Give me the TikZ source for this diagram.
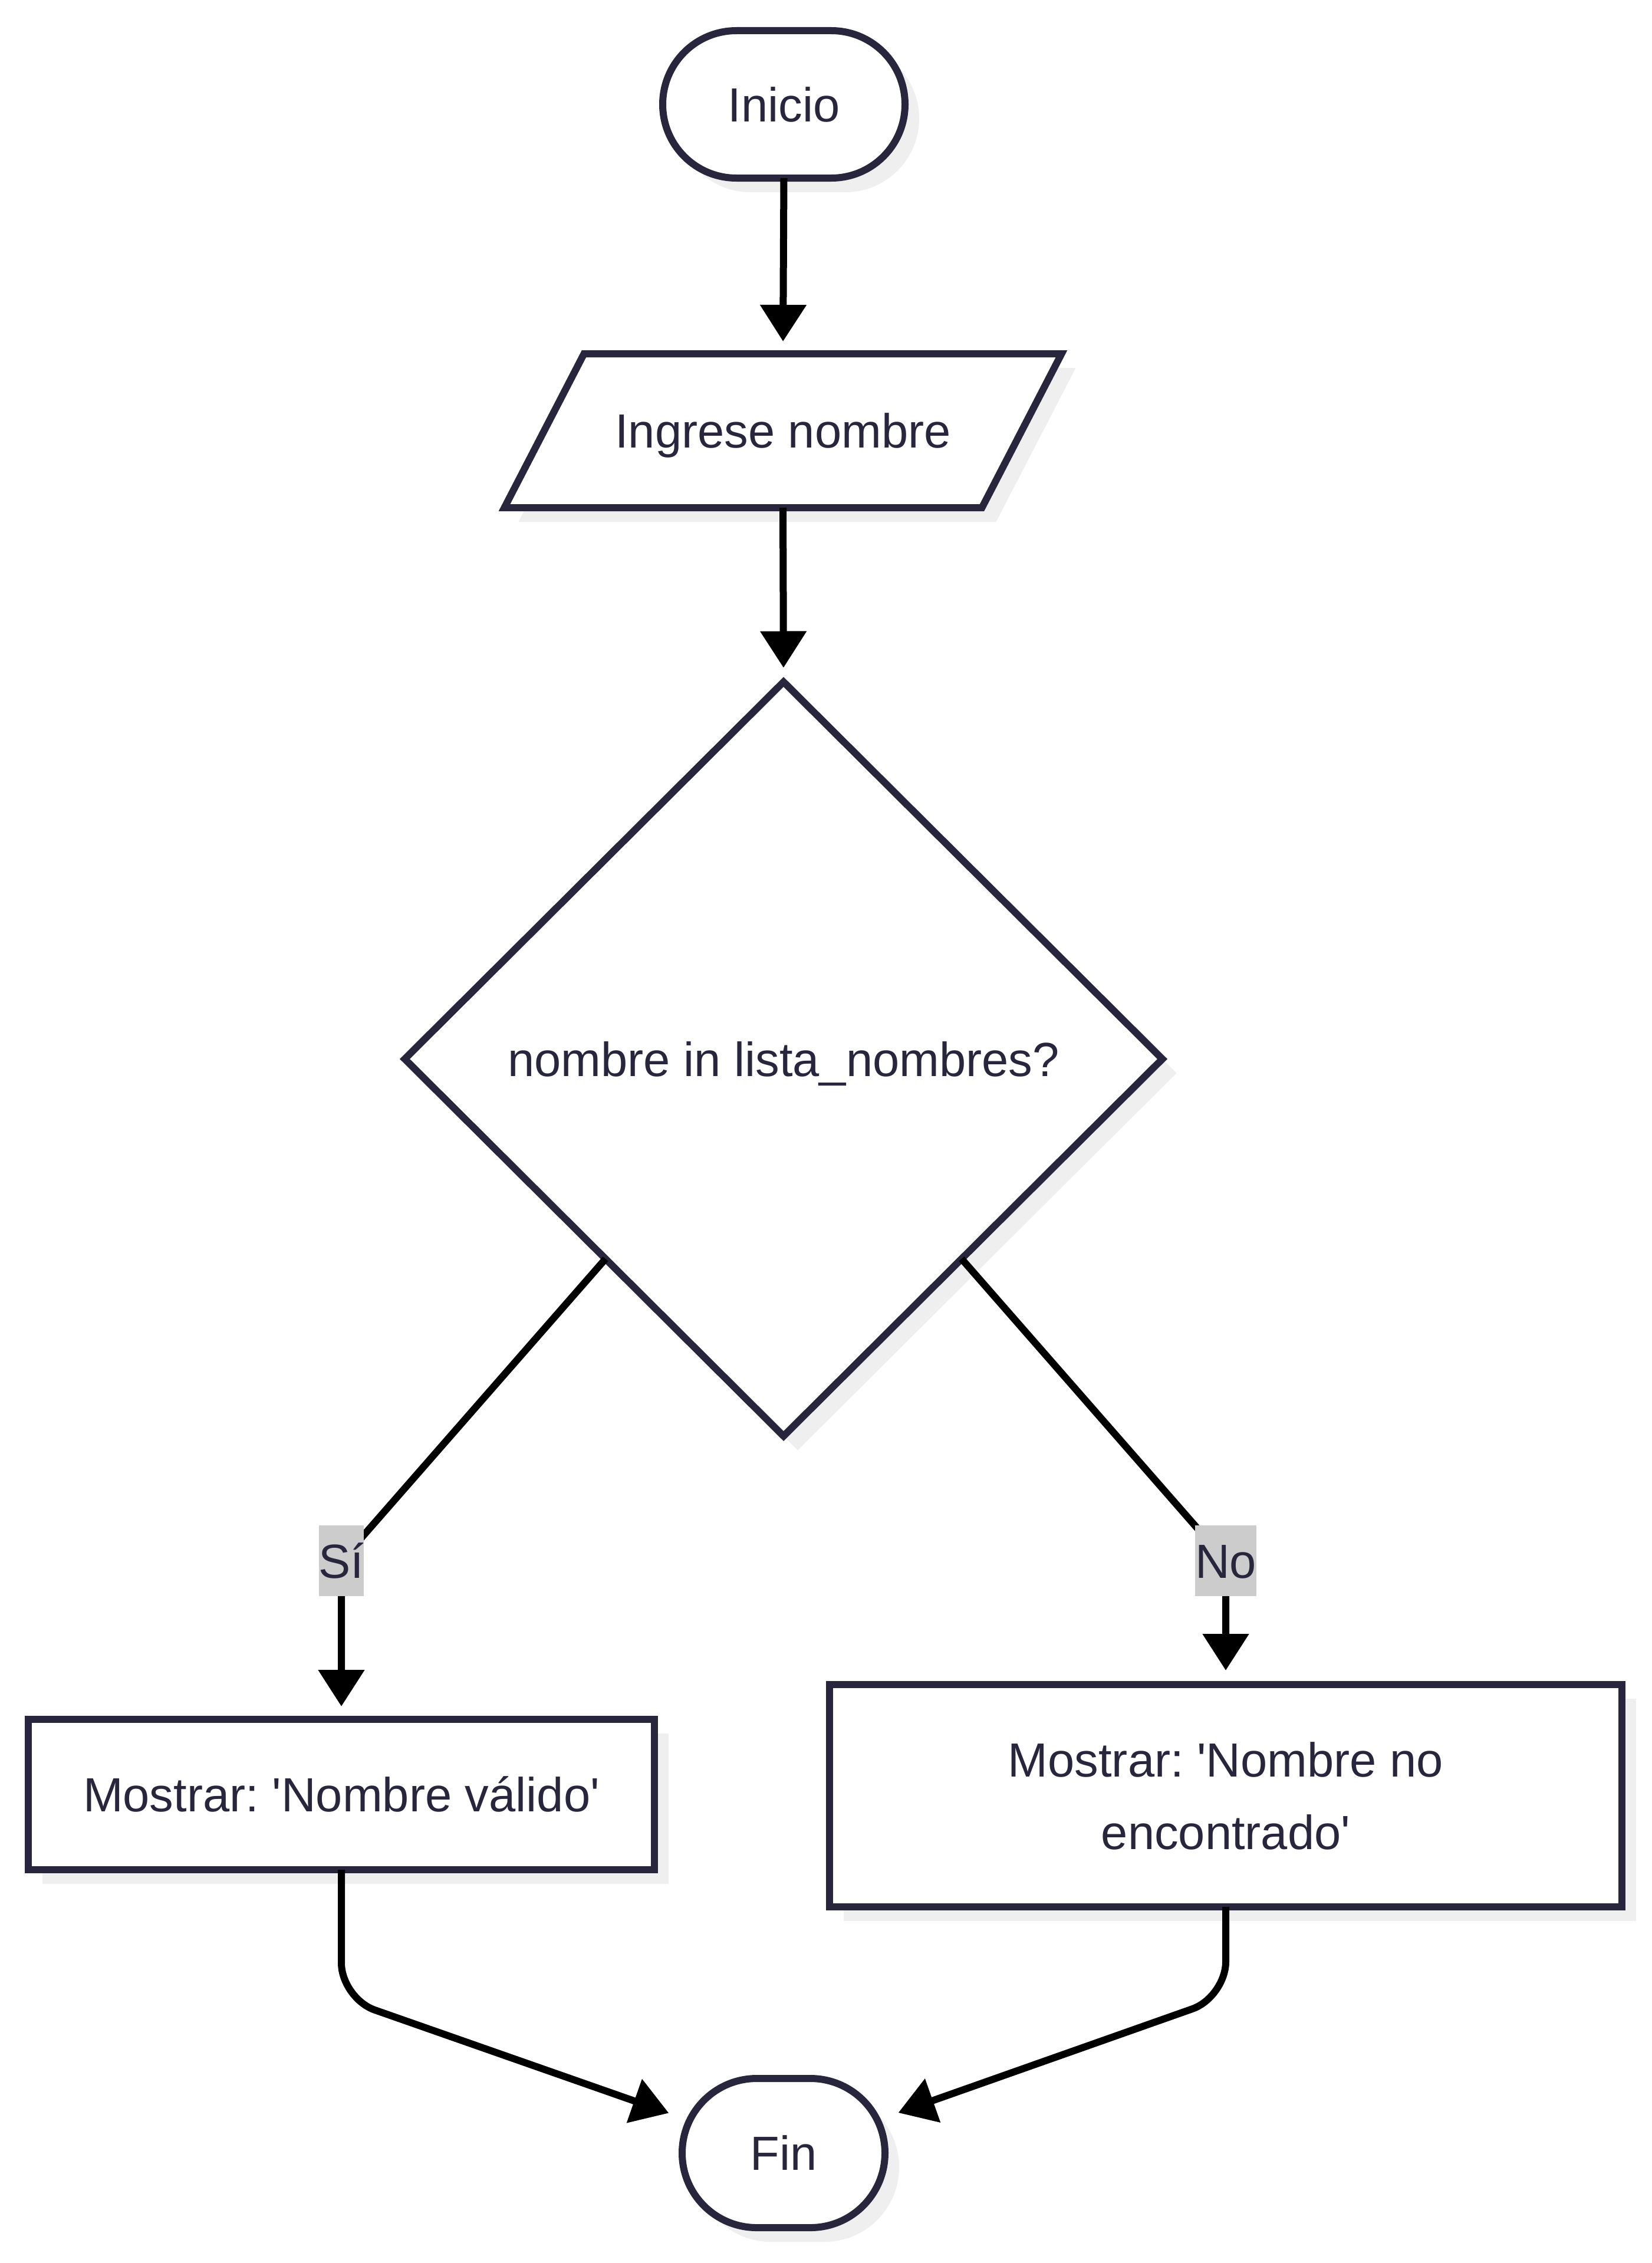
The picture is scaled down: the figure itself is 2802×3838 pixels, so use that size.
\documentclass[tikz,border=0pt]{standalone}
\usepackage{fontspec}
\setmainfont{Liberation Sans}
\usetikzlibrary{shapes.geometric,arrows.meta,shadows,calc}
\definecolor{ink}{RGB}{39,38,61}
\definecolor{shade}{RGB}{239,239,239}
\definecolor{lblbg}{RGB}{204,204,204}
\frenchspacing
\begin{document}
\begin{tikzpicture}[x=1pt,y=-1pt,
  every node/.style={font=\fontsize{81.3pt}{123pt}\selectfont\frenchspacing, text=ink},
  nodebox/.style={draw=ink, fill=white, line width=12pt, inner sep=0pt, outer sep=0pt,
    drop shadow={shadow xshift=24pt,shadow yshift=-24pt,fill=shade,opacity=1}},
  edge/.style={draw=black, line width=12pt, -{Triangle[length=62pt,width=76pt]}},
  lbl/.style={fill=lblbg, inner sep=0pt, minimum height=120pt, text height=58pt, text depth=0pt},
  sl/.style={text height=58pt, text depth=0pt}
]
\fill[white] (0,0) rectangle (2802,3838);
\useasboundingbox (0,0) rectangle (2802,3838);

% Inicio
\node[nodebox, sl, rounded corners=125pt, minimum width=411pt, minimum height=250pt] (ini) at (1329.5,177) {Inicio};

% Ingrese nombre (parallelogram)
\coordinate (inc) at (1328,730.5);
\path[fill=shade] ([shift={(24,24)}]inc) ++(-337.5,-130.5) -- ++(810,0) -- ++(-135,261) -- ++(-810,0) -- cycle;
\draw[ink, fill=white, line width=12pt] (inc) ++(-337.5,-130.5) -- ++(810,0) -- ++(-135,261) -- ++(-810,0) -- cycle;
\node[sl, minimum width=810pt, minimum height=261pt, inner sep=0pt, outer sep=0pt] (in) at (inc) {Ingrese nombre};

% decision
\node[nodebox, sl, diamond, aspect=1, minimum width=1285pt, minimum height=1279pt] (d) at (1329,1796) {nombre in lista\_nombres?};

% outputs
\node[nodebox, sl, minimum width=1062pt, minimum height=255pt] (r1) at (579,3043.5) {Mostrar: \textquotesingle Nombre válido\textquotesingle};
\node[nodebox, align=center, minimum width=1344pt, minimum height=377pt] (r2) at (2079,3045.5) {Mostrar: \textquotesingle Nombre no\\encontrado\textquotesingle};

% Fin
\node[nodebox, sl, rounded corners=126.5pt, minimum width=344pt, minimum height=253pt] (fin) at (1329,3651.5) {Fin};

% label positions
\coordinate (csi) at (579,2647);
\coordinate (cno) at (2079,2647);

% edges
\draw[edge, shorten >=21pt] (ini.south) -- (in.north);
\draw[edge, shorten >=24pt] (in.south) -- (d.north);
\draw[edge, shorten >=22pt, rounded corners=40pt] ($(d.west)!0.53!(d.south)$) -- (csi) -- (csi |- r1.north);
\draw[edge, shorten >=24pt, rounded corners=40pt] ($(d.east)!0.53!(d.south)$) -- (cno) -- (cno |- r2.north);
\draw[edge, shorten >=24pt, rounded corners=60pt] (r1.south) -- ++(0,218) -- (fin);
\draw[edge, shorten >=24pt, rounded corners=60pt] (r2.south) -- ++(0,153) -- (fin);

% edge labels
\node[lbl] (lsi) at (csi) {Sí};
\node[lbl] (lno) at (cno) {No};
\end{tikzpicture}
\end{document}
